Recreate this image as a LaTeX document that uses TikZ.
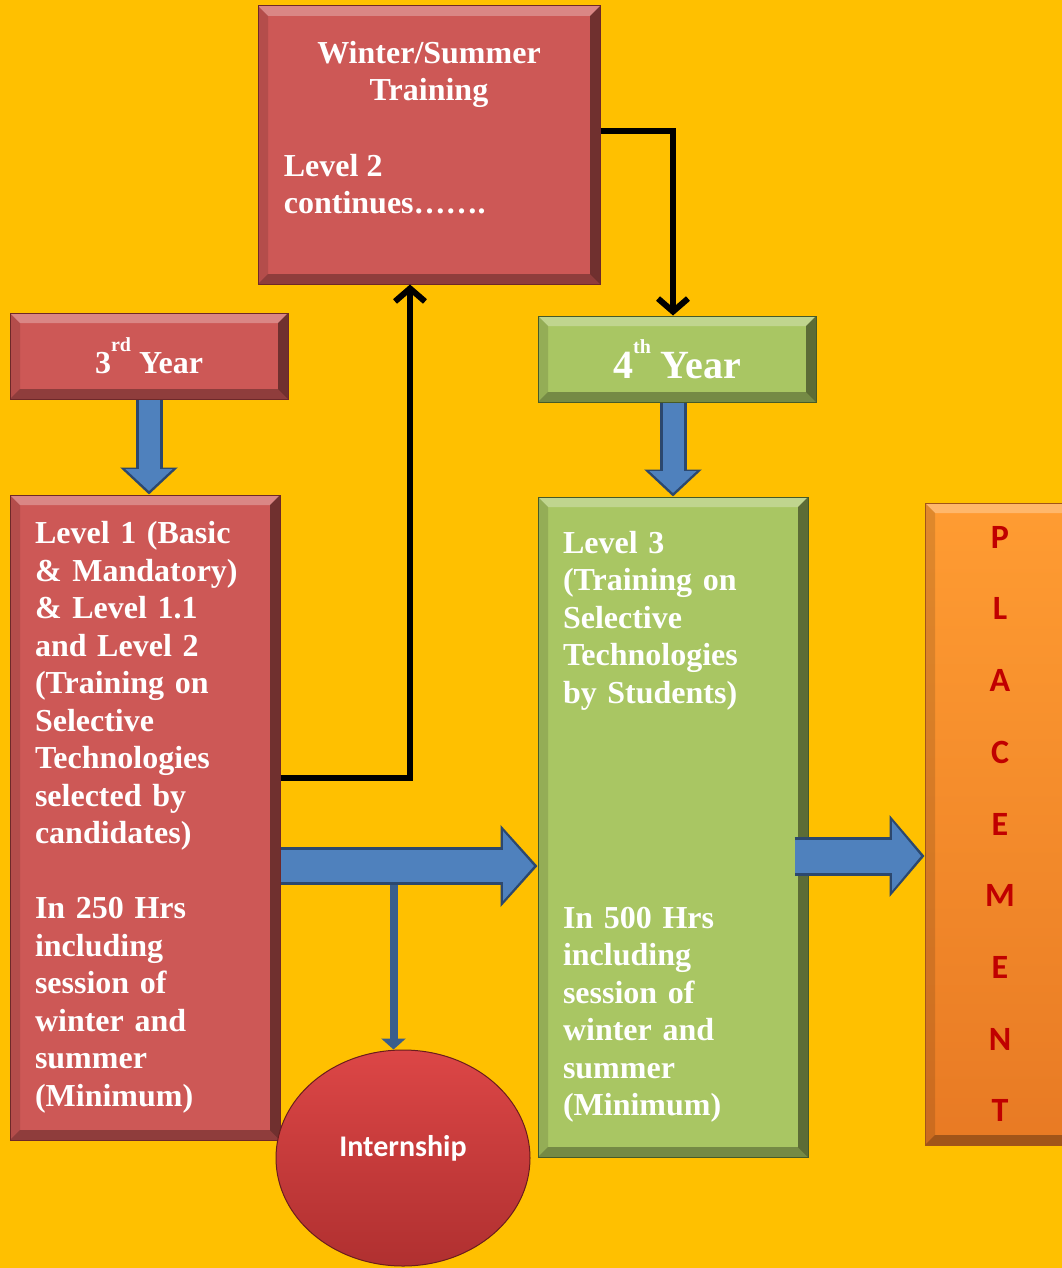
\documentclass[tikz,border=0pt]{standalone}
\usepackage{fontspec}
\setmainfont{Liberation Serif}
\newfontfamily\calibri{Carlito}
\usepackage{xcolor}
\usetikzlibrary{shapes.geometric,arrows.meta}
\definecolor{bgAmber}{RGB}{255,192,0}
\definecolor{boxRed}{RGB}{205,88,86}
\definecolor{boxRedDark}{RGB}{110,40,40}
\definecolor{boxGreen}{RGB}{169,198,99}
\definecolor{boxGreenDark}{RGB}{70,90,40}
\definecolor{placeTop}{RGB}{255,156,50}
\definecolor{placeBottom}{RGB}{232,122,36}
\definecolor{letterRed}{RGB}{192,0,0}
\definecolor{arrowBlue}{RGB}{79,129,189}
\definecolor{arrowDark}{RGB}{44,72,110}
\definecolor{lineBlue}{RGB}{58,94,140}
\definecolor{internTop}{RGB}{220,70,70}
\definecolor{internBottom}{RGB}{176,48,48}
\tikzset{
  bevel/.style={path picture={
    \path (path picture bounding box.north west) coordinate (bNW)
          (path picture bounding box.north east) coordinate (bNE)
          (path picture bounding box.south east) coordinate (bSE)
          (path picture bounding box.south west) coordinate (bSW);
    \fill [white, opacity=.28] (bNW) -- (bNE) -- ([shift={(-10pt,-10pt)}]bNE) -- ([shift={(10pt,-10pt)}]bNW) -- cycle;
    \fill [black, opacity=.45] (bNE) -- (bSE) -- ([shift={(-10pt,10pt)}]bSE) -- ([shift={(-10pt,-10pt)}]bNE) -- cycle;
    \fill [black, opacity=.3] (bSE) -- (bSW) -- ([shift={(10pt,10pt)}]bSW) -- ([shift={(-10pt,10pt)}]bSE) -- cycle;
    \fill [black, opacity=.12] (bSW) -- (bNW) -- ([shift={(10pt,-10pt)}]bNW) -- ([shift={(10pt,10pt)}]bSW) -- cycle;
  }},
  fatEdge/.style n args={3}{draw=arrowDark, line width=#1, -{Triangle[width=#2,length=#3]}},
  fatFill/.style n args={3}{draw=arrowBlue, line width=#1, shorten >=3.5pt, -{Triangle[width=#2,length=#3]}}
}
\tikzstyle{link} = [draw, line width=6pt, -{Straight Barb[length=13pt,width=30pt]}]
\tikzstyle{lineArrow} = [draw=lineBlue, line width=8pt, -{Triangle[width=24pt,length=11pt]}]
\tikzstyle{redBlock} = [draw=boxRedDark, line width=1pt, fill=boxRed, bevel, text=white,
    inner sep=0pt, font=\bfseries\fontsize{32}{37.5}\selectfont]
\tikzstyle{greenBlock} = [draw=boxGreenDark, line width=1pt, fill=boxGreen, bevel, text=white,
    inner sep=0pt, font=\bfseries\fontsize{32}{37.5}\selectfont]
\tikzstyle{placeBlock} = [draw=placeBottom!70!black, line width=1pt, top color=placeTop,
    bottom color=placeBottom, bevel, text=letterRed, inner sep=0pt, align=center,
    font=\calibri\bfseries\fontsize{34}{71.7}\selectfont]
\tikzstyle{internBlock} = [draw=internBottom!60!black, line width=1pt, ellipse, top color=internTop,
    bottom color=internBottom, text=white, font=\calibri\bfseries\fontsize{30}{36}\selectfont]
\tikzstyle{boxText} = [text=white, inner sep=0pt, font=\bfseries\fontsize{32}{37.5}\selectfont]

\begin{document}
\begin{tikzpicture}[x=1pt, y=-1pt, node distance=2cm, thick]
      \useasboundingbox (0,0) rectangle (1062,1268);
      \fill [bgAmber] (0,0) rectangle (1062,1268);

      % Place nodes
      \node [redBlock, minimum width=278pt, minimum height=86pt] (year3) at (149,356)
          {3\raisebox{22pt}{\fontsize{20}{20}\selectfont rd} Year};
      \node [redBlock, below of=year3, node distance=461.5pt, xshift=-4pt, minimum width=270pt,
          minimum height=645pt, text width=220pt, align=left] (level1)
          {Level 1 (Basic\\\& Mandatory)\\\& Level 1.1\\and Level 2\\(Training on\\Selective\\Technologies\\selected by\\candidates)\\[37.5pt]In 250 Hrs\\including\\session of\\winter and\\summer\\(Minimum)};

      \node [greenBlock, right of=year3, node distance=528pt, yshift=-3pt, minimum width=278pt,
          minimum height=86pt] (year4)
          {\fontsize{40}{40}\selectfont 4\raisebox{25pt}{\fontsize{20}{20}\selectfont th} Year};
      \node [greenBlock, below of=year4, node distance=468pt, xshift=-4pt, minimum width=270pt,
          minimum height=660pt, text width=220pt, align=left] (level3)
          {Level 3\\(Training on\\Selective\\Technologies\\by Students)\\[187.5pt]In 500 Hrs\\including\\session of\\winter and\\summer\\(Minimum)\\[-16pt]};

      \node [redBlock, above of=year4, node distance=214pt, xshift=-248pt, minimum width=342pt,
          minimum height=278pt] (winter) {};
      \node [boxText, align=center] (winterHead) at ([yshift=-69pt]winter.north) {Winter/Summer\\Training};
      \node [boxText, align=left, anchor=west] (winterBody) at ([xshift=26pt, yshift=-39pt]winter.west) {Level 2\\continues…….};

      \node [placeBlock, right of=level3, node distance=327pt, yshift=3pt, minimum width=150pt,
          minimum height=642pt] (placement) {P\\L\\A\\C\\E\\M\\E\\N\\T};

      \node [internBlock, below of=level1, node distance=340.5pt, xshift=258pt, minimum width=254pt,
          minimum height=216pt] (intern) {\raisebox{24pt}{Internship}};

      \coordinate (midFlow) at ([yshift=-48.5pt]level1.east);
      \coordinate (split) at ([xshift=113pt, yshift=-9pt]midFlow);
      \coordinate (outFlow) at ([xshift=-14pt, yshift=-29pt]level3.east);

      % Draw edges
      \path [lineArrow] (split) -- (split |- intern.north);

      \path [fatEdge={27pt}{56pt}{27pt}] (year3) -- (year3 |- level1.north);
      \path [fatFill={21pt}{46pt}{22pt}] (year3) -- (year3 |- level1.north);
      \path [fatEdge={27pt}{56pt}{27pt}] (level3.north |- year4.south) -- (level3.north);
      \path [fatFill={21pt}{46pt}{22pt}] (level3.north |- year4.south) -- (level3.north);
      \path [fatEdge={38pt}{80pt}{37pt}] (midFlow) -- (midFlow -| level3.west);
      \path [fatFill={32pt}{68pt}{31pt}] (midFlow) -- (midFlow -| level3.west);
      \path [fatEdge={39pt}{80pt}{35pt}] (outFlow) -- (outFlow -| placement.west);
      \path [fatFill={33pt}{68pt}{29pt}] (outFlow) -- (outFlow -| placement.west);

      \path [link] (level1.east |- 0,778) -| ([xshift=-19pt]winter.south);
      \path [link] ([yshift=14pt]winter.east) -| ([xshift=-4pt]year4.north);

  \end{tikzpicture}
\end{document}
